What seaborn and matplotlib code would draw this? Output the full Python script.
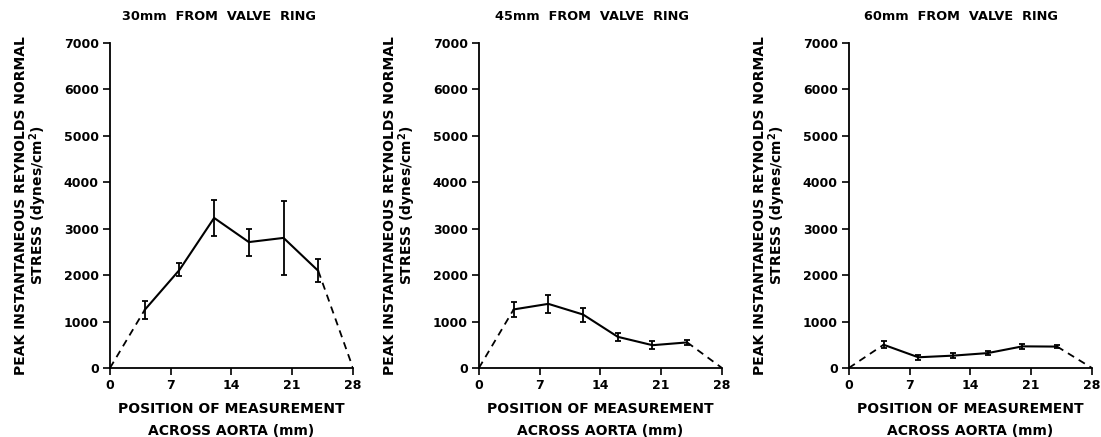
import numpy as np
import pandas as pd
import seaborn as sns
from matplotlib import pyplot as plt

# measurement positions across the aorta (mm)
positions = [4, 8, 12, 16, 20, 24]
x_edges = [0, 28]

titles = ["30mm  FROM  VALVE  RING", "45mm  FROM  VALVE  RING", "60mm  FROM  VALVE  RING"]

# peak stress and error bar half-widths (dynes/cm2)
stress_30 = [1250, 2110, 3230, 2710, 2800, 2090]
err_30 = [190, 140, 380, 290, 800, 250]
stress_45 = [1260, 1380, 1150, 670, 490, 550]
err_45 = [170, 200, 150, 80, 80, 55]
stress_60 = [500, 230, 265, 320, 465, 460]
err_60 = [80, 50, 50, 50, 50, 40]

sns.set_style("ticks")
plt.rcParams['font.family'] = ['DejaVu Sans']
plt.rcParams['font.weight'] = 'bold'
plt.rcParams['axes.labelweight'] = 'bold'
plt.rcParams['mathtext.default'] = 'bf'
for k in ['text.color', 'axes.labelcolor', 'xtick.color', 'ytick.color']:
    plt.rcParams[k] = 'black'

fig = plt.figure(figsize=(11.01, 4.37), dpi=100)
lefts = [0.0999, 0.435, 0.771]
title_x = [0.449, 0.467, 0.46]
panels = [(stress_30, err_30), (stress_45, err_45), (stress_60, err_60)]

for left, tx, title, (vals, errs) in zip(lefts, title_x, titles, panels):
    ax = fig.add_axes([left, 0.158, 0.2207, 0.744])
    df = pd.DataFrame({'pos': positions, 'stress': vals})
    sns.lineplot(data=df, x='pos', y='stress', color='black', lw=1.5, ax=ax)
    # dashed extrapolation to the wall
    start = pd.DataFrame({'pos': [x_edges[0], positions[0]], 'stress': [0, vals[0]]})
    end = pd.DataFrame({'pos': [positions[-1], x_edges[1]], 'stress': [vals[-1], 0]})
    sns.lineplot(data=start, x='pos', y='stress', color='black', lw=1.3, ls=(0, (4, 3)), ax=ax)
    sns.lineplot(data=end, x='pos', y='stress', color='black', lw=1.3, ls=(0, (4, 3)), ax=ax)
    ax.errorbar(positions, vals, yerr=errs, fmt='none', ecolor='black',
                elinewidth=1.3, capsize=2.5, capthick=1.3)
    ax.set_xlim(0, 28)
    ax.set_ylim(0, 7000)
    ax.set_xticks([0, 7, 14, 21, 28])
    ax.set_yticks(range(0, 7001, 1000))
    ax.tick_params(labelsize=9, length=5, width=1.2, pad=3)
    for s in ['left', 'bottom']:
        ax.spines[s].set_linewidth(1.3)
        ax.spines[s].set_color('black')
    sns.despine(ax=ax)
    ax.set_title(title, fontsize=9.3, fontweight='bold', x=tx, y=1.071, pad=0)
    ax.set_xlabel("POSITION OF MEASUREMENT\nACROSS AORTA (mm)", fontsize=10,
                  linespacing=1.65)
    ax.xaxis.set_label_coords(0.5, -0.106)
    ax.set_ylabel("PEAK INSTANTANEOUS REYNOLDS NORMAL\nSTRESS (dynes/cm$^2$)",
                  fontsize=10, linespacing=1.0)
    ax.yaxis.set_label_coords(-0.25, 0.5)

fig.savefig('out.png', dpi=100)
